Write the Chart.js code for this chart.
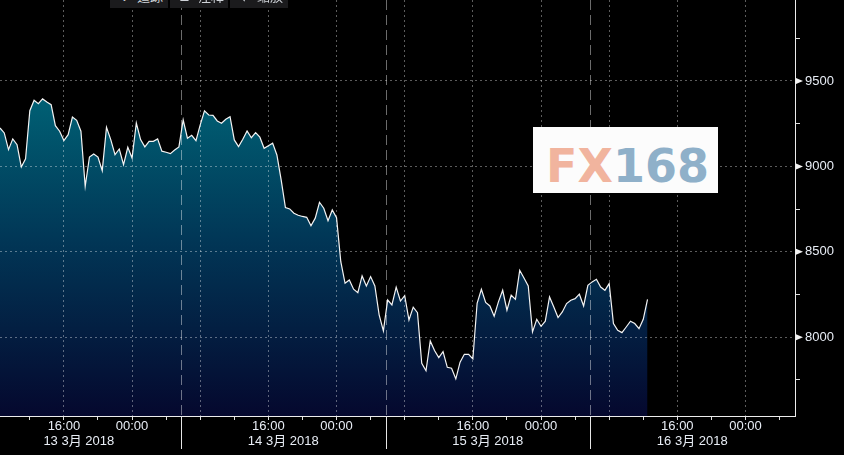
<!DOCTYPE html>
<html>
<head>
<meta charset="utf-8">
<script src="https://cdn.jsdelivr.net/npm/chart.js@4.4.1/dist/chart.umd.min.js"></script>
<style>
html,body{margin:0;padding:0;background:#000;}
#wrap{position:relative;width:844px;height:455px;overflow:hidden;background:#000;}
#c{position:absolute;left:0;top:0;}
.tb{position:absolute;top:0;height:8px;background:#1b1b1d;overflow:hidden;color:#cfd3d8;
    font:13px "Noto Sans CJK SC","Liberation Sans",sans-serif;white-space:nowrap;}
.tb span{position:absolute;top:-11px;line-height:13px;}
#logo{position:absolute;left:533px;top:127px;width:185px;height:66px;background:#fcfcfc;overflow:hidden;}
#logo div{position:absolute;left:13px;top:16px;font:bold 46px "DejaVu Sans",sans-serif;line-height:46px;white-space:nowrap;letter-spacing:0px;}
</style>
</head>
<body>
<div id="wrap">
  <canvas id="c" width="844" height="455"></canvas>
  <div class="tb" style="left:110px;width:58px;"><span style="left:9px">⇣</span><span style="left:27px">追踪</span></div>
  <div class="tb" style="left:170px;width:58px;"><span style="left:9px">⊏</span><span style="left:28px">注释</span></div>
  <div class="tb" style="left:230px;width:58px;"><span style="left:4px">↖</span><span style="left:27px">缩放</span></div>
  <div id="logo"><div><span style="color:#f1b49e">FX</span><span style="color:#8fb0c9">168</span></div></div>
</div>
<script>
// ---- data (30-minute closes, starting 13 Mar 08:30) ----
const startHour = 8.5;      // hours since 13 Mar 00:00
const stepHours = 0.5;
const values = [
  9225,9196,9098,9161,9127,8997,9045,9326,9387,9367,
  9395,9377,9361,9238,9206,9151,9186,9289,9270,9206,
  8884,9055,9073,9055,8975,9229,9157,9069,9102,9010,
  9112,9049,9254,9157,9114,9147,9147,9161,9089,9083,
  9075,9096,9114,9272,9165,9182,9151,9243,9325,9301,
  9299,9266,9253,9276,9291,9155,9116,9159,9208,9168,
  9198,9171,9106,9121,9136,9067,8921,8759,8751,8726,
  8714,8707,8702,8653,8697,8790,8755,8682,8745,8700,
  8442,8316,8335,8281,8261,8359,8300,8355,8300,8131,
  8037,8218,8189,8293,8212,8243,8101,8176,8144,7848,
  7804,7978,7922,7881,7916,7824,7819,7756,7854,7900,
  7900,7873,8199,8281,8204,8183,8123,8207,8275,8158,
  8246,8222,8392,8347,8300,8031,8105,8064,8094,8236,
  8177,8115,8148,8197,8217,8226,8252,8183,8304,8324,
  8339,8294,8275,8314,8080,8041,8027,8060,8094,8080,
  8050,8105,8222
];
const xMin = 8.5, xMax = 101.81;
const yMin = 7539, yMax = 9974;
const timeTickHours = [12,16,20,24,28,32,36,40,44,48,52,56,60,64,68,72,76,80,84,88,92,96,100];
const dateTickHours = [17.75, 41.75, 65.75, 89.75];
const dateLabels = ['13 3月 2018', '14 3月 2018', '15 3月 2018', '16 3月 2018'];
const dayBoundaryHours = [29.75, 53.75, 77.75];
const yMajorTicks = [8000, 8500, 9000, 9500, 10000];
const yMinorTicks = [7750, 8250, 8750, 9250, 9750];

const FONT = '"Liberation Sans", Arial, "Noto Sans CJK SC", sans-serif';
const TXT = '#e8edf5';
const GRID = 'rgba(255,255,255,0.36)';
const CLEAR = 'rgba(0,0,0,0)';

const points = values.map((v, i) => ({x: startHour + i * stepHours, y: v}));

function timeLabel(h) {
  const m = ((h % 24) + 24) % 24;
  if (m === 16) return '16:00';
  if (m === 0) return '00:00';
  return '';
}
function noPad(s) { s.paddingTop = 0; s.paddingBottom = 0; s.paddingLeft = 0; s.paddingRight = 0; }

const overlay = {
  id: 'overlay',
  afterDraw(chart) {
    const {ctx, chartArea: a, scales: {x, y}} = chart;
    ctx.save();
    ctx.lineWidth = 1;
    ctx.strokeStyle = 'rgba(255,255,255,0.42)';
    ctx.setLineDash([10, 5]);
    dayBoundaryHours.forEach(h => {
      const px = Math.round(x.getPixelForValue(h)) + 0.5;
      ctx.beginPath(); ctx.moveTo(px, a.top); ctx.lineTo(px, a.bottom); ctx.stroke();
    });
    ctx.setLineDash([]);
    ctx.strokeStyle = '#e6e6e6';
    dayBoundaryHours.forEach(h => {
      const px = Math.round(x.getPixelForValue(h)) + 0.5;
      ctx.beginPath(); ctx.moveTo(px, a.bottom); ctx.lineTo(px, a.bottom + 33); ctx.stroke();
    });
    ctx.fillStyle = '#f2f2f2';
    yMajorTicks.forEach(v => {
      const py = y.getPixelForValue(v);
      ctx.beginPath();
      ctx.moveTo(a.right + 1, py - 3);
      ctx.lineTo(a.right + 1, py + 3);
      ctx.lineTo(a.right + 8, py);
      ctx.closePath(); ctx.fill();
    });
    // label of the 10000 level, just above the visible range
    ctx.fillStyle = TXT;
    ctx.font = '13px ' + FONT;
    ctx.textBaseline = 'middle';
    ctx.textAlign = 'left';
    const top = yMajorTicks[yMajorTicks.length - 1];
    ctx.fillText(String(top), a.right + 10, y.getPixelForValue(top));
    ctx.restore();
  }
};

new Chart(document.getElementById('c'), {
  type: 'line',
  data: {
    datasets: [{
      data: points,
      borderColor: '#f4f4f4',
      borderWidth: 1.2,
      pointRadius: 0,
      tension: 0,
      fill: 'start',
      backgroundColor: (c) => {
        const ch = c.chart;
        const a = ch.chartArea;
        if (!a) return 'rgba(0,60,90,1)';
        const ys = ch.scales.y;
        const g = ch.ctx.createLinearGradient(0, ys.getPixelForValue(9400), 0, a.bottom);
        g.addColorStop(0, 'rgb(0,96,116)');
        g.addColorStop(0.45, 'rgb(1,54,86)');
        g.addColorStop(1, 'rgb(5,8,46)');
        return g;
      }
    }]
  },
  options: {
    responsive: false,
    animation: false,
    layout: {padding: 0},
    plugins: {legend: {display: false}, tooltip: {enabled: false}},
    scales: {
      x: {
        type: 'linear', position: 'bottom', weight: 0, min: xMin, max: xMax, bounds: 'data',
        afterBuildTicks: s => { s.ticks = timeTickHours.map(v => ({value: v})); },
        afterFit: s => { s.height = 19; noPad(s); },
        ticks: {autoSkip: false, maxRotation: 0, minRotation: 0, color: TXT, padding: 0,
                font: {family: FONT, size: 13, lineHeight: 1}, callback: v => timeLabel(v)},
        grid: {z: 1, drawOnChartArea: true, drawTicks: true, tickLength: 4, lineWidth: 1,
               color: c => (c.tick && c.tick.value % 8 === 0) ? GRID : CLEAR,
               tickColor: '#e0e0e0'},
        border: {display: true, z: 1, color: '#ececec', width: 1, dash: [2, 3]}
      },
      x2: {
        type: 'linear', position: 'bottom', weight: 1, min: xMin, max: xMax, bounds: 'data',
        afterBuildTicks: s => { s.ticks = dateTickHours.map(v => ({value: v})); },
        afterFit: s => { s.height = 20; noPad(s); },
        ticks: {autoSkip: false, maxRotation: 0, minRotation: 0, color: TXT, padding: 0,
                font: {family: FONT, size: 13, lineHeight: 1},
                callback: (v, i) => dateLabels[i]},
        grid: {display: false, drawTicks: false},
        border: {display: false}
      },
      y: {
        type: 'linear', position: 'right', min: yMin, max: yMax, bounds: 'data',
        afterBuildTicks: s => {
          const all = yMajorTicks.concat(yMinorTicks).filter(v => v >= yMin && v <= yMax).sort((p, q) => p - q);
          s.ticks = all.map(v => ({value: v}));
        },
        afterFit: s => { s.width = 49; noPad(s); },
        ticks: {autoSkip: false, color: TXT, padding: 5,
                font: {family: FONT, size: 13, lineHeight: 1},
                callback: v => (v % 500 === 0 ? String(v) : '')},
        grid: {z: 1, drawOnChartArea: true, drawTicks: true, tickLength: 5, lineWidth: 1,
               color: c => (c.tick && c.tick.value % 500 === 0) ? GRID : CLEAR,
               tickColor: c => (c.tick && c.tick.value % 500 === 0) ? CLEAR : '#e0e0e0'},
        border: {display: true, z: 1, color: '#ececec', width: 1, dash: [2, 3]}
      }
    }
  },
  plugins: [overlay]
});
</script>
</body>
</html>
